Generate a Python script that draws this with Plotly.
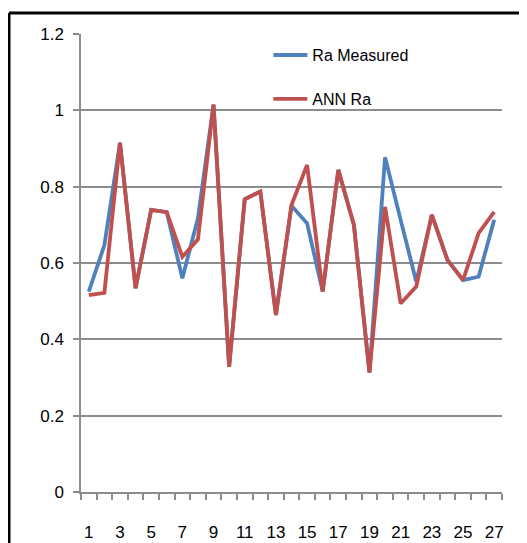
import plotly.graph_objects as go

samples = list(range(1, 28))
ra_measured = [0.525, 0.647, 0.915, 0.534, 0.739, 0.733, 0.560, 0.717, 1.015, 0.328,
               0.767, 0.787, 0.464, 0.750, 0.704, 0.525, 0.844, 0.700, 0.313, 0.877,
               0.713, 0.551, 0.726, 0.608, 0.555, 0.564, 0.713]
ann_ra = [0.516, 0.522, 0.915, 0.534, 0.739, 0.733, 0.616, 0.662, 1.015, 0.328,
          0.767, 0.787, 0.464, 0.752, 0.857, 0.525, 0.844, 0.700, 0.313, 0.747,
          0.494, 0.538, 0.726, 0.608, 0.555, 0.678, 0.734]
y_ticks = [0, 0.2, 0.4, 0.6, 0.8, 1, 1.2]
y_tick_text = ["0", "0.2", "0.4", "0.6", "0.8", "1", "1.2"]
x_label_vals = list(range(1, 28, 2))

FONT = "Liberation Sans, Arial, sans-serif"
GRID = "#8c8c8c"

fig = go.Figure()
fig.add_trace(go.Scatter(x=samples, y=ra_measured, mode="lines", name="Ra Measured",
                         legendgroup="a",
                         line=dict(color="#4F81BD", width=3.8)))
fig.add_trace(go.Scatter(x=samples, y=ann_ra, mode="lines", name="ANN Ra",
                         legendgroup="b",
                         line=dict(color="#C0504D", width=3.8)))

# the page body adds an 8px offset; margins compensate for it
fig.update_layout(
    width=527, height=543,
    margin=dict(l=73, r=33, t=26, b=59),
    paper_bgcolor="white", plot_bgcolor="white",
    font=dict(family=FONT, size=17, color="#000000"),
    showlegend=True,
    legend=dict(x=0.445, y=0.991, xanchor="left", yanchor="top",
                bgcolor="rgba(0,0,0,0)", tracegroupgap=20,
                font=dict(family=FONT, size=16), itemwidth=34),
    xaxis=dict(range=[0.5, 27.5], tickmode="array", tickvals=x_label_vals,
               ticktext=[str(v) for v in x_label_vals], ticks="", showgrid=False,
               zeroline=False, showline=True, linecolor=GRID, linewidth=1.5,
               ticklabelstandoff=24, automargin=False,
               minor=dict(tickmode="linear", tick0=0.5, dtick=1, ticks="outside",
                          ticklen=6, tickcolor=GRID, tickwidth=1.5, showgrid=False)),
    yaxis=dict(range=[0, 1.2], tickmode="array", tickvals=y_ticks, ticktext=y_tick_text,
               ticks="outside", ticklen=6, tickcolor=GRID, tickwidth=1.5,
               showgrid=True, gridcolor=GRID, gridwidth=1.5, zeroline=False,
               showline=True, linecolor=GRID, linewidth=1.5,
               ticklabelstandoff=6, automargin=False),
)

# outer frame (left and top edges of the chart border)
fig.add_shape(type="line", xref="paper", yref="paper", x0=-0.171, x1=-0.171,
              y0=-0.2, y1=1.0459, line=dict(color="black", width=3))
fig.add_shape(type="line", xref="paper", yref="paper", x0=-0.171, x1=1.1,
              y0=1.0459, y1=1.0459, line=dict(color="black", width=3))

fig.write_html("out.html")
